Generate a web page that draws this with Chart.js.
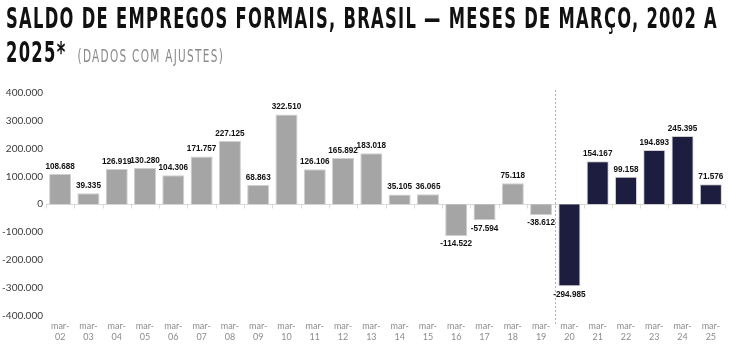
<!DOCTYPE html>
<html>
<head>
<meta charset="utf-8">
<script src="https://cdn.jsdelivr.net/npm/chart.js@4/dist/chart.umd.min.js"></script>
<style>
  html, body { margin: 0; padding: 0; background: #fff; }
  #wrap { position: relative; width: 730px; height: 350px; overflow: hidden; }
  #title { position: absolute; left: 6px; top: 2px; white-space: nowrap; transform-origin: 0 0;
    font-family: "DejaVu Sans Condensed", "DejaVu Sans", sans-serif; font-stretch: condensed; font-weight: bold;
    font-size: 28px; line-height: 34px; letter-spacing: 2px; color: #111; }
  #title .sub { font-size: 18px; font-weight: normal; letter-spacing: 2px; color: #8a8a8a; margin-left: 17px; }
  #chart { position: absolute; left: 0; top: 0; }
</style>
</head>
<body>
<div id="wrap">
  <canvas id="chart" width="730" height="350"></canvas>
  <div id="title"><span id="line1">SALDO DE EMPREGOS FORMAIS, BRASIL — MESES DE MARÇO, 2002 A</span><br>2025*<span class="sub">(DADOS COM AJUSTES)</span></div>
</div>
<script>
// Saldo de empregos formais, meses de março
const years = ['02','03','04','05','06','07','08','09','10','11','12','13','14','15','16','17','18','19','20','21','22','23','24','25'];
const saldo = [108688, 39335, 126919, 130280, 104306, 171757, 227125, 68863, 322510, 126106, 165892, 183018,
  35105, 36065, -114522, -57594, 75118, -38612, -294985, 154167, 99158, 194893, 245395, 71576];
const yTicks = [-400000, -300000, -200000, -100000, 0, 100000, 200000, 300000, 400000];
const breakIndex = 18; // series changes from mar-20 on

const grayBar = '#a5a5a5';
const navyBar = '#1c1d3f';

function fmt(n) {
  const s = Math.abs(n).toString().replace(/\B(?=(\d{3})+(?!\d))/g, '.');
  return (n < 0 ? '-' : '') + s;
}

// fit the first title line to the page width
const title = document.getElementById('title');
const line1 = document.getElementById('line1');
const sx = 712 / line1.getBoundingClientRect().width;
title.style.transform = 'scaleX(' + sx + ')';

// zero line, ticks, dashed divider and value labels
const axisPlugin = {
  id: 'axisExtras',
  beforeDatasetsDraw(chart) {
    const { ctx, chartArea, scales: { x, y } } = chart;
    const y0 = Math.round(y.getPixelForValue(0)) + 0.5;
    ctx.save();
    ctx.strokeStyle = '#d9d9d9';
    ctx.lineWidth = 1;
    ctx.beginPath();
    ctx.moveTo(chartArea.left, y0);
    ctx.lineTo(chartArea.right, y0);
    const step = x.getPixelForValue(1) - x.getPixelForValue(0);
    for (let i = 0; i <= years.length; i++) {
      const px = Math.round(x.getPixelForValue(i) - step / 2) + 0.5;
      ctx.moveTo(px, y0);
      ctx.lineTo(px, y0 + 4);
    }
    ctx.stroke();
    const dx = Math.round((x.getPixelForValue(breakIndex - 1) + x.getPixelForValue(breakIndex)) / 2) + 0.5;
    ctx.strokeStyle = '#b0b0b0';
    ctx.setLineDash([2, 2]);
    ctx.beginPath();
    ctx.moveTo(dx, chartArea.top - 3);
    ctx.lineTo(dx, chartArea.bottom + 9);
    ctx.stroke();
    ctx.restore();
  },
  afterDatasetsDraw(chart) {
    const { ctx } = chart;
    const meta = chart.getDatasetMeta(0);
    ctx.save();
    ctx.font = 'bold 9.5px "Liberation Sans", Arial, sans-serif';
    ctx.fillStyle = '#111';
    ctx.textAlign = 'center';
    meta.data.forEach((bar, i) => {
      const v = saldo[i];
      const ty = v >= 0 ? bar.y - 3 : bar.y + 3;
      ctx.textBaseline = v >= 0 ? 'bottom' : 'top';
      ctx.save();
      ctx.translate(bar.x, ty);
      ctx.scale(0.86, 1);
      ctx.fillText(fmt(v), 0, 0);
      ctx.restore();
    });
    ctx.restore();
  }
};

new Chart(document.getElementById('chart'), {
  type: 'bar',
  data: {
    labels: years.map(a => ['mar-', a]),
    datasets: [{
      data: saldo,
      backgroundColor: saldo.map((v, i) => i < breakIndex ? grayBar : navyBar),
      borderColor: '#d0d0d0',
      borderWidth: 1,
      barPercentage: 0.78,
      categoryPercentage: 1
    }]
  },
  options: {
    responsive: false,
    animation: false,
    layout: { padding: { top: 93, right: 5, left: 0, bottom: 3 } },
    plugins: { legend: { display: false }, tooltip: { enabled: false } },
    scales: {
      x: {
        grid: { display: false, drawTicks: false },
        border: { display: false },
        ticks: {
          color: '#8c8c8c',
          font: { family: 'Lato, sans-serif', size: 9, lineHeight: 1.2 },
          maxRotation: 0,
          autoSkip: false,
          padding: 5
        }
      },
      y: {
        min: -400000,
        max: 400000,
        afterBuildTicks(scale) { scale.ticks = yTicks.map(v => ({ value: v })); },
        afterFit(scale) { scale.width = 46; },
        grid: { display: false, drawTicks: false },
        border: { display: false },
        ticks: {
          color: '#3a3a3a',
          font: { family: 'Lato, sans-serif', size: 10 },
          padding: 3,
          callback: v => fmt(v)
        }
      }
    }
  },
  plugins: [axisPlugin]
});
</script>
</body>
</html>
